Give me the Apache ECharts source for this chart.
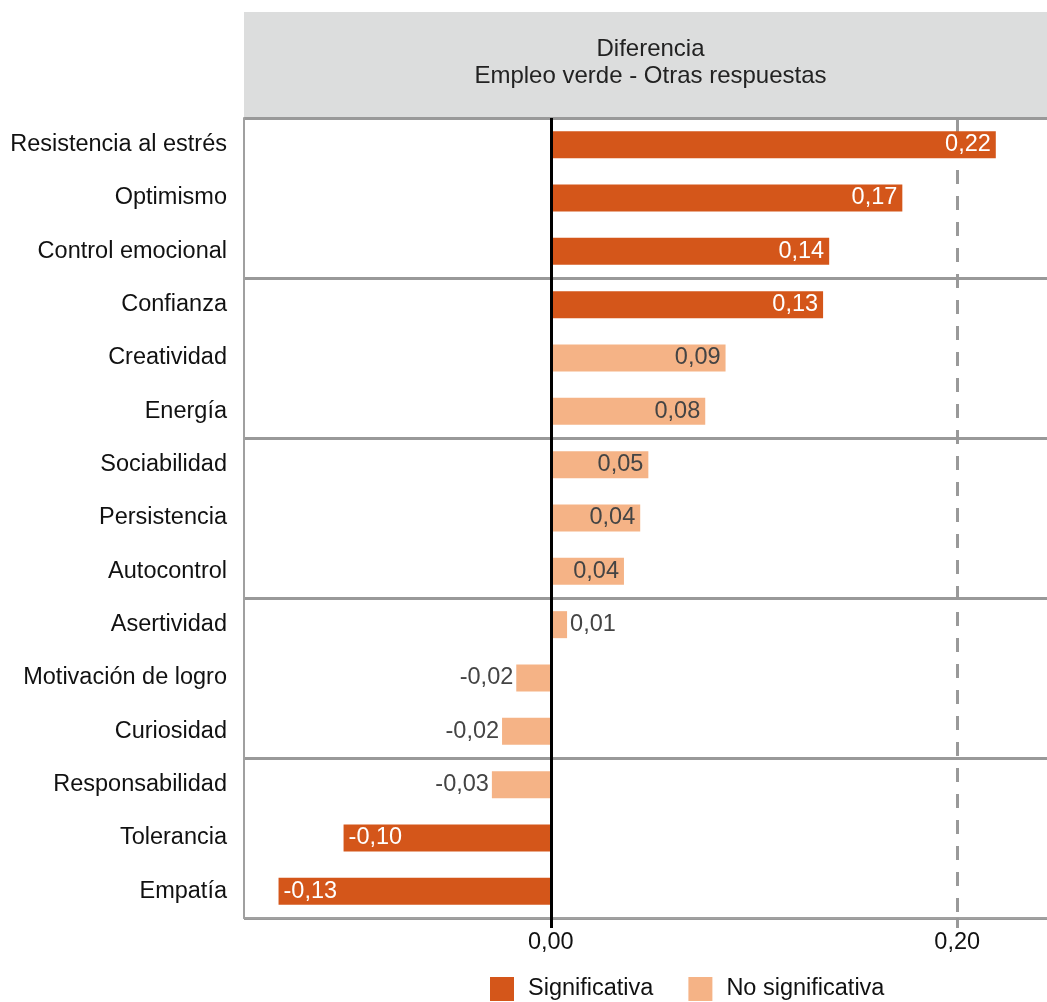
<!DOCTYPE html>
<html>
<head>
<meta charset="utf-8">
<script src="https://cdn.jsdelivr.net/npm/echarts@6/dist/echarts.min.js"></script>
<style>
  html, body { margin: 0; padding: 0; background: #fff; }
  #chart { width: 1047px; height: 1002px; }
</style>
</head>
<body>
<div id="chart"></div>
<script>
// Competencias y diferencia entre empleo verde y el resto de respuestas
const categories = [
  'Resistencia al estrés', 'Optimismo', 'Control emocional',
  'Confianza', 'Creatividad', 'Energía',
  'Sociabilidad', 'Persistencia', 'Autocontrol',
  'Asertividad', 'Motivación de logro', 'Curiosidad',
  'Responsabilidad', 'Tolerancia', 'Empatía'
];
const differences = [
  0.219, 0.173, 0.137,
  0.134, 0.086, 0.076,
  0.048, 0.044, 0.036,
  0.008, -0.017, -0.024,
  -0.029, -0.102, -0.134
];
const significant = [
  true, true, true,
  true, false, false,
  false, false, false,
  false, false, false,
  false, true, true
];
const tickValues = [0, 0.2];
const referenceLine = 0.2;
const seriesNames = ['Significativa', 'No significativa'];

const FONT = "'Liberation Sans', Arial, Helvetica, sans-serif";
const FONT_SIZE = 23.5;
const DARK = '#d4561a';
const LIGHT = '#f5b386';
const WIDTH = 1047;
const GRID = { left: 244, top: 118, right: -2, bottom: 84 };
const HEADER = { top: 12 };

const fmt = v => v.toFixed(2).replace('.', ',');

// Labels go inside the bar when it is wide enough, otherwise outside
const INSIDE_MIN = 0.03;
function item(v, i, sig) {
  if (significant[i] !== sig) return '-';
  const inside = Math.abs(v) >= INSIDE_MIN;
  let position;
  if (v >= 0) position = inside ? 'insideRight' : 'right';
  else position = inside ? 'insideLeft' : 'left';
  return {
    value: v,
    label: {
      position: position,
      distance: inside ? 5 : 3,
      color: sig ? '#ffffff' : '#444444'
    }
  };
}

const chart = echarts.init(document.getElementById('chart'), null, { renderer: 'canvas' });

const axisMin = -0.151, axisMax = 0.2442;

chart.setOption({
  animation: false,
  textStyle: { fontFamily: FONT },
  title: {
    text: 'Diferencia\nEmpleo verde - Otras respuestas',
    left: GRID.left + (WIDTH - GRID.left) / 2,
    textAlign: 'center',
    top: 31,
    padding: [5, 5, 5, 5],
    textStyle: {
      fontFamily: FONT, fontSize: 24, fontWeight: 'normal',
      color: '#222', lineHeight: 27
    }
  },
  graphic: [{
    type: 'rect',
    z: -10,
    shape: { x: GRID.left, y: HEADER.top, width: WIDTH - GRID.left, height: GRID.top - HEADER.top },
    style: { fill: '#dcdddd' }
  }],
  legend: {
    data: seriesNames,
    left: 490,
    top: 977,
    padding: 0,
    icon: 'rect',
    itemWidth: 24,
    itemHeight: 24,
    itemGap: 35,
    textStyle: { fontFamily: FONT, fontSize: FONT_SIZE, color: '#111', padding: [0, 0, 0, 9] }
  },
  grid: Object.assign({ containLabel: false }, GRID),
  xAxis: [{
    type: 'value',
    min: axisMin,
    max: axisMax,
    position: 'bottom',
    splitLine: { show: false },
    axisLine: { show: true, onZero: false, lineStyle: { color: '#a0a0a0', width: 2 } },
    axisTick: { show: true, customValues: [referenceLine], length: 10, lineStyle: { color: '#999', width: 3 } },
    axisLabel: {
      customValues: tickValues,
      formatter: v => fmt(v),
      fontFamily: FONT, fontSize: FONT_SIZE, color: '#111', margin: 13
    }
  }, {
    type: 'value',
    min: axisMin,
    max: axisMax,
    position: 'bottom',
    splitLine: { show: false },
    axisLine: { show: false },
    axisTick: { show: true, customValues: [0], length: 10, lineStyle: { color: '#000', width: 3 } },
    axisLabel: { show: false }
  }],
  yAxis: {
    type: 'category',
    data: categories,
    inverse: true,
    axisLine: { show: true, onZero: false, lineStyle: { color: '#a0a0a0', width: 2 } },
    axisTick: { show: false },
    axisLabel: { fontFamily: FONT, fontSize: FONT_SIZE, color: '#111', margin: 17 },
    splitLine: {
      show: true,
      interval: (idx) => idx % 3 === 0,
      lineStyle: { color: '#999', width: 3 }
    }
  },
  series: [{
    name: seriesNames[0],
    type: 'bar',
    barWidth: 27,
    barGap: '-100%',
    itemStyle: { color: DARK },
    label: { show: true, formatter: p => fmt(p.value), fontFamily: FONT, fontSize: FONT_SIZE },
    data: differences.map((v, i) => item(v, i, true)),
    markLine: {
      silent: true,
      symbol: 'none',
      label: { show: false },
      z: 1,
      data: [
        { xAxis: referenceLine, lineStyle: { color: '#999', width: 3, type: [14, 12] } }
      ]
    }
  }, {
    name: seriesNames[1],
    type: 'bar',
    barWidth: 27,
    barGap: '-100%',
    itemStyle: { color: LIGHT },
    label: { show: true, formatter: p => fmt(p.value), fontFamily: FONT, fontSize: FONT_SIZE },
    data: differences.map((v, i) => item(v, i, false)),
    markLine: {
      silent: true,
      symbol: 'none',
      label: { show: false },
      z: 10,
      data: [
        { xAxis: 0, lineStyle: { color: '#000', width: 3, type: 'solid' } }
      ]
    }
  }]
});
</script>
</body>
</html>
